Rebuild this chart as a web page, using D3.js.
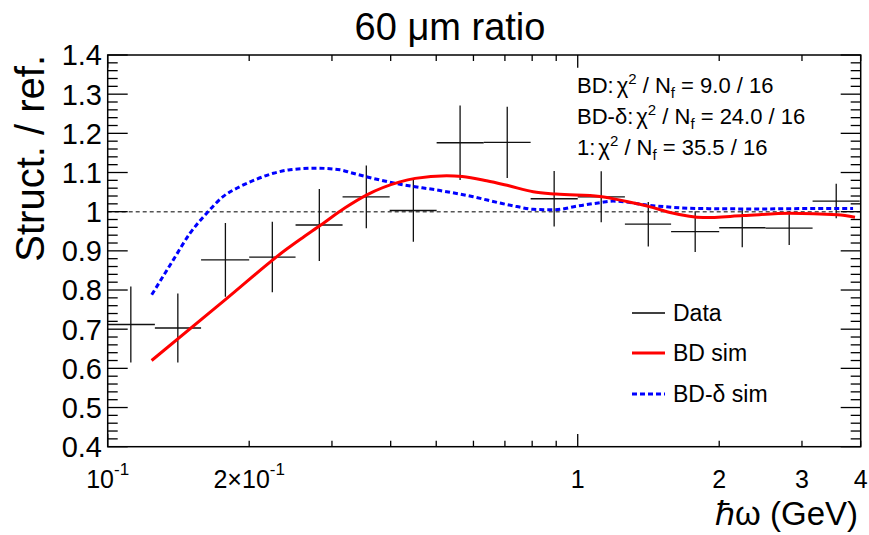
<!DOCTYPE html>
<html>
<head>
<meta charset="utf-8">
<script src="https://d3js.org/d3.v7.min.js"></script>
<style>
body { margin:0; background:#fff; }
svg text { font-family:"Liberation Sans", Arial, sans-serif; fill:#000; }
</style>
</head>
<body>
<div id="chart"></div>
<script>
// data: bin centres, bin edges, ratio and error
var dataX   = [0.112, 0.141, 0.178, 0.224, 0.282, 0.355, 0.447, 0.562, 0.708, 0.891, 1.122, 1.413, 1.778, 2.239, 2.818, 3.548];
var dataLo  = [0.1, 0.126, 0.158, 0.2, 0.251, 0.316, 0.398, 0.501, 0.631, 0.794, 1.0, 1.26, 1.58, 2.0, 2.51, 3.16];
var dataHi  = [0.126, 0.158, 0.2, 0.251, 0.316, 0.398, 0.501, 0.631, 0.794, 1.0, 1.26, 1.58, 2.0, 2.51, 3.16, 3.98];
var dataY   = [0.712, 0.703, 0.877, 0.884, 0.966, 1.038, 1.003, 1.176, 1.177, 1.033, 1.038, 0.968, 0.949, 0.959, 0.958, 1.027];
var dataErr = [0.097, 0.088, 0.094, 0.090, 0.092, 0.080, 0.080, 0.095, 0.091, 0.071, 0.065, 0.057, 0.052, 0.050, 0.043, 0.044];

// BD sim (red)
var bdX = [0.124, 0.179, 0.240, 0.2565, 0.284, 0.320, 0.356, 0.4185, 0.451, 0.526, 0.568, 0.640, 0.714, 0.804, 0.898, 1.115, 1.271, 1.42, 1.572, 1.85, 2.251, 2.829, 3.574, 3.89];
var bdY = [0.620, 0.778, 0.904, 0.929, 0.966, 1.010, 1.043, 1.076, 1.085, 1.092, 1.090, 1.079, 1.066, 1.051, 1.045, 1.039, 1.026, 1.013, 0.998, 0.985, 0.990, 0.996, 0.992, 0.986];

// BD-delta sim (blue dashed)
var bddX = [0.1241, 0.1379, 0.1497, 0.1624, 0.1762, 0.1912, 0.2075, 0.2251, 0.2443, 0.2784, 0.312, 0.3279, 0.3584, 0.4185, 0.5093, 0.5996, 0.6834, 0.7418, 0.8043, 0.8948, 0.9952, 1.115, 1.189, 1.425, 1.821, 2.443, 3.121, 3.853];
var bddY = [0.788, 0.877, 0.945, 0.996, 1.039, 1.064, 1.083, 1.098, 1.107, 1.111, 1.107, 1.100, 1.088, 1.070, 1.054, 1.038, 1.022, 1.013, 1.006, 1.005, 1.014, 1.023, 1.027, 1.016, 1.008, 1.007, 1.008, 1.008];

var chiNames  = ["BD:", "BD-\u03b4:", "1:"];
var chiValues = ["9.0 / 16", "24.0 / 16", "35.5 / 16"];
var legendNames = ["Data", "BD sim", "BD-\u03b4 sim"];
var xLabelVals = [0.1, 0.2, 1, 2, 3, 4];
var xLabelBase = ["10", "2\u00d710", "1", "2", "3", "4"];
var xLabelSup  = ["-1", "-1", "", "", "", ""];

var W = 869, H = 535;
var fL = 107.7, fR = 860.7, fT = 55, fB = 446.7;

var svg = d3.select("#chart").append("svg")
  .attr("width", W).attr("height", H);

var x = d3.scaleLog().domain([0.1, 4]).range([fL, fR]);
var y = d3.scaleLinear().domain([0.4, 1.4]).range([fB, fT]);

svg.append("clipPath").attr("id", "clip")
  .append("rect").attr("x", fL).attr("y", fT)
  .attr("width", fR - fL).attr("height", fB - fT);

var plot = svg.append("g").attr("clip-path", "url(#clip)");

// reference line at 1
plot.append("line")
  .attr("x1", fL).attr("x2", fR)
  .attr("y1", y(1)).attr("y2", y(1))
  .attr("stroke", "#555").attr("stroke-width", 1.5)
  .attr("stroke-dasharray", "4,3");

// data crosses
var pts = dataX.map(function(d, i) {
  return {x: d, lo: dataLo[i], hi: dataHi[i], y: dataY[i], e: dataErr[i]};
});
var cross = plot.selectAll(".pt").data(pts).enter().append("g");
cross.append("line")
  .attr("x1", function(d) { return x(d.lo); })
  .attr("x2", function(d) { return x(d.hi); })
  .attr("y1", function(d) { return y(d.y); })
  .attr("y2", function(d) { return y(d.y); })
  .attr("stroke", "#111").attr("stroke-width", 1.3);
cross.append("line")
  .attr("x1", function(d) { return x(d.x); })
  .attr("x2", function(d) { return x(d.x); })
  .attr("y1", function(d) { return y(d.y - d.e); })
  .attr("y2", function(d) { return y(d.y + d.e); })
  .attr("stroke", "#111").attr("stroke-width", 1.3);

var line = d3.line()
  .x(function(d) { return x(d[0]); })
  .y(function(d) { return y(d[1]); })
  .curve(d3.curveMonotoneX);

plot.append("path")
  .datum(d3.zip(bddX, bddY))
  .attr("d", line)
  .attr("fill", "none").attr("stroke", "#0000ff")
  .attr("stroke-width", 3).attr("stroke-dasharray", "5,3");

plot.append("path")
  .datum(d3.zip(bdX, bdY))
  .attr("d", line)
  .attr("fill", "none").attr("stroke", "#ff0000")
  .attr("stroke-width", 3);

// frame
svg.append("rect")
  .attr("x", fL).attr("y", fT)
  .attr("width", fR - fL).attr("height", fB - fT)
  .attr("fill", "none").attr("stroke", "#000").attr("stroke-width", 1.5);

// y ticks, both sides
var yMinor = d3.range(0, 51).map(function(i) { return 0.4 + i * 0.02; });
var ax = svg.append("g").attr("stroke", "#000").attr("stroke-width", 1.3);
yMinor.forEach(function(v, i) {
  var len = (i % 5 == 0) ? 20 : 10;
  ax.append("line").attr("x1", fL).attr("x2", fL + len)
    .attr("y1", y(v)).attr("y2", y(v));
  ax.append("line").attr("x1", fR).attr("x2", fR - len)
    .attr("y1", y(v)).attr("y2", y(v));
});

// x ticks, top and bottom
x.ticks().forEach(function(v) {
  var major = Math.abs(Math.log10(v) - Math.round(Math.log10(v))) < 1e-6;
  var len = major ? 12.7 : 6;
  ax.append("line").attr("x1", x(v)).attr("x2", x(v))
    .attr("y1", fB).attr("y2", fB - len);
  ax.append("line").attr("x1", x(v)).attr("x2", x(v))
    .attr("y1", fT).attr("y2", fT + len);
});

// y labels
svg.append("g").selectAll("text")
  .data(y.ticks(10))
  .enter().append("text")
    .attr("x", 102)
    .attr("y", function(d) { return y(d); })
    .attr("dy", "0.36em")
    .attr("text-anchor", "end")
    .style("font-size", "29px")
    .text(d3.format(".1~f"));

// x labels
xLabelVals.forEach(function(v, i) {
  var t = svg.append("text")
    .attr("x", x(v)).attr("y", 487.7)
    .attr("text-anchor", "middle")
    .style("font-size", "25px");
  t.append("tspan").text(xLabelBase[i]);
  if (xLabelSup[i]) {
    t.append("tspan").attr("dy", -13).style("font-size", "17px").text(xLabelSup[i]);
  }
});

// axis titles
svg.append("text")
  .attr("x", 858).attr("y", 525)
  .attr("text-anchor", "end")
  .style("font-size", "33px")
  .text("\u210f\u03c9 (GeV)");

svg.append("text")
  .attr("transform", "translate(44,55) rotate(-90)")
  .attr("text-anchor", "end")
  .style("font-size", "40px")
  .text("Struct. / ref.");

svg.append("text")
  .attr("x", 450).attr("y", 40)
  .attr("text-anchor", "middle")
  .style("font-size", "38px")
  .text("60 \u03bcm ratio");

// chi2 annotations
chiNames.forEach(function(n, i) {
  var t = svg.append("text")
    .attr("x", 577).attr("y", 93 + i * 31)
    .style("font-size", "22px");
  t.append("tspan").text(n);
  t.append("tspan").attr("dx", 3).text("\u03c7");
  t.append("tspan").attr("dy", -9).style("font-size", "15px").text("2");
  t.append("tspan").attr("dy", 9).text(" / N");
  t.append("tspan").attr("dy", 5).style("font-size", "15px").text("f");
  t.append("tspan").attr("dy", -5).text(" = " + chiValues[i]);
});

// legend
var legY = [313, 353, 394];
var legStyle = [["#000", 1.3, null], ["#ff0000", 3, null], ["#0000ff", 3, "5,3"]];
legendNames.forEach(function(n, i) {
  svg.append("line")
    .attr("x1", 632).attr("x2", 665)
    .attr("y1", legY[i]).attr("y2", legY[i])
    .attr("stroke", legStyle[i][0]).attr("stroke-width", legStyle[i][1])
    .attr("stroke-dasharray", legStyle[i][2]);
  svg.append("text")
    .attr("x", 673).attr("y", legY[i] + 8)
    .style("font-size", "23px")
    .text(n);
});
</script>
</body>
</html>
